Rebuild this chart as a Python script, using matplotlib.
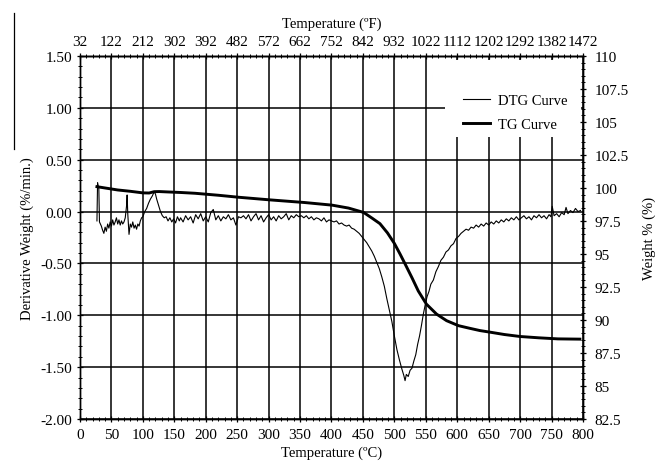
import numpy as np
import matplotlib.pyplot as plt
from matplotlib.lines import Line2D
from matplotlib.patches import Rectangle
from matplotlib.ticker import MultipleLocator, FixedLocator, FormatStrFormatter

plt.rcParams['font.family'] = ['Liberation Serif', 'DejaVu Serif']
plt.rcParams['font.size'] = 10.5

# DTG curve (%/min.)
temp_dtg = [27, 28, 30, 31, 34, 36, 38, 40, 42, 44, 46, 48, 50, 52, 54, 56, 58, 60,
            62, 64, 66, 68, 70, 72, 74, 75, 76, 78, 80, 82, 84, 86, 88, 90, 92, 94,
            96, 98, 100, 103, 106, 109, 112, 115, 118, 120, 122, 125, 128, 131, 134,
            137, 140, 143, 146, 149, 152, 155, 158,
            160, 164, 168, 172, 176, 180, 184, 188, 192, 196, 200, 204, 208, 212,
            216, 220, 224, 228, 232, 236, 240, 244, 248, 252, 256, 260, 264, 268,
            272, 276, 280, 284, 288, 292, 296, 300, 304, 308, 312, 316, 320, 324,
            328, 332, 336, 340, 344, 348, 352, 356, 360, 364, 368, 372, 376, 380,
            384, 388, 392, 396, 400,
            404, 408, 412, 416, 420, 424, 428, 432, 436, 440, 444, 448, 452, 456,
            460, 464, 468, 472, 476, 480, 484, 488, 492, 496, 500, 504, 508, 512,
            515, 517, 519, 522, 525, 528, 531, 534, 537, 540, 543, 546, 549, 552,
            555, 558, 562, 566, 570, 574, 578, 582, 586, 590, 594, 598, 602, 606,
            610, 614, 618, 622, 626, 630, 634, 638,
            642, 646, 650, 654, 658, 662, 666, 670, 674, 678, 682, 686, 690, 694,
            698, 702, 706, 710, 714, 718, 722, 726, 730, 734, 738, 742, 746, 749,
            751, 754, 758, 762, 766, 770, 773, 776, 780, 784, 788, 792, 796]
dtg = [-0.09, 0.28, 0.22, -0.10, -0.14, -0.18, -0.21, -0.15, -0.19, -0.12, -0.16,
       -0.10, -0.14, -0.08, -0.13, -0.10, -0.06, -0.12, -0.08, -0.13, -0.09, -0.12,
       -0.10, -0.06, 0.05, 0.16, -0.02, -0.22, -0.12, -0.15, -0.10, -0.16, -0.13,
       -0.17, -0.12, -0.14, -0.09, -0.06, -0.05, 0.00, 0.03, 0.08, 0.12, 0.15, 0.19,
       0.17, 0.12, 0.06, 0.00, -0.04, -0.06, -0.05, -0.09, -0.06, -0.10, -0.07,
       -0.11, -0.05, -0.09,
       -0.06, -0.10, -0.04, -0.08, -0.05, -0.11, -0.03, -0.07, -0.02, -0.09, -0.05,
       -0.10, -0.01, 0.02, -0.08, -0.04, -0.09, -0.05, -0.07, -0.03, -0.08, -0.06,
       -0.13, -0.05, -0.06, -0.04, -0.07, -0.03, -0.09, -0.05, -0.02, -0.08, -0.04,
       -0.10, -0.06, -0.03, -0.08, -0.05, -0.09, -0.04, -0.07, -0.05, -0.02, -0.08,
       -0.04, -0.06, -0.03, -0.05, -0.04, -0.06, -0.04, -0.07, -0.05, -0.08, -0.06,
       -0.07, -0.09, -0.06, -0.10, -0.08, -0.09,
       -0.10, -0.09, -0.12, -0.11, -0.13, -0.14, -0.13, -0.16, -0.17, -0.19, -0.21,
       -0.24, -0.27, -0.30, -0.34, -0.38, -0.43, -0.49, -0.55, -0.63, -0.72, -0.84,
       -0.95, -1.06, -1.20, -1.33, -1.43, -1.52, -1.58, -1.63, -1.57, -1.59, -1.53,
       -1.51, -1.44, -1.38, -1.28, -1.20, -1.10, -0.99, -0.90, -0.82, -0.77, -0.70,
       -0.66, -0.58, -0.53, -0.47, -0.44, -0.39, -0.37, -0.33, -0.31, -0.26, -0.24,
       -0.21, -0.19, -0.17, -0.18, -0.15, -0.16, -0.13, -0.15, -0.12,
       -0.14, -0.11, -0.13, -0.10, -0.12, -0.09, -0.11, -0.08, -0.10, -0.07, -0.09,
       -0.06, -0.08, -0.05, -0.08, -0.06, -0.04, -0.07, -0.05, -0.08, -0.04, -0.06,
       -0.03, -0.06, -0.04, -0.07, -0.03, -0.05, 0.05, -0.04, -0.02, -0.05, -0.01,
       -0.03, 0.04, -0.02, 0.01, -0.01, 0.03, 0.00, 0.01]

# TG curve (weight %)
temp_tg = [27, 40, 60, 80, 100, 110, 118, 126, 140, 160, 183, 220, 252, 302, 357,
           401, 427, 451, 465, 477, 489, 500, 509, 517, 528, 538, 551, 567, 583, 602,
           620, 636, 652, 675, 700, 730, 760, 795]
tg = [100.1, 100.0, 99.85, 99.75, 99.63, 99.62, 99.72, 99.73, 99.7, 99.66, 99.6,
      99.45, 99.3, 99.1, 98.9, 98.7, 98.48, 98.15, 97.7, 97.3, 96.6, 95.8, 95.0,
      94.25, 93.2, 92.2, 91.2, 90.45, 89.95, 89.57, 89.37, 89.2, 89.08, 88.9, 88.75,
      88.65, 88.57, 88.55]

fig = plt.figure(figsize=(6.62, 4.64), dpi=100)
ax = fig.add_axes([0.1208, 0.0948, 0.7599, 0.7824])
ax2 = ax.twinx()

ax.plot(temp_dtg, dtg, color='black', lw=0.8)
ax2.plot(temp_tg, tg, color='black', lw=2.1)

ax.set_xlim(0, 800)
ax.set_ylim(-2.0, 1.5)
ax.xaxis.set_major_locator(MultipleLocator(50))
ax.xaxis.set_minor_locator(MultipleLocator(10))
ax.yaxis.set_major_locator(MultipleLocator(0.5))
ax.yaxis.set_minor_locator(MultipleLocator(0.1))
ax.yaxis.set_major_formatter(FormatStrFormatter('%.2f'))
ax.grid(True, which='major', color='black', lw=1.1)
ax.set_axisbelow(True)

ax2.set_ylim(82.5, 110)
ax2.yaxis.set_major_locator(MultipleLocator(2.5))
ax2.yaxis.set_minor_locator(MultipleLocator(0.5))
ax2.yaxis.set_major_formatter(plt.FuncFormatter(lambda v, p: '{:g}'.format(v)))

secax = ax.secondary_xaxis('top', functions=(lambda c: c * 1.8 + 32,
                                             lambda f: (f - 32) / 1.8))
secax.xaxis.set_major_locator(FixedLocator(np.arange(32, 1473, 90)))
secax.xaxis.set_minor_locator(FixedLocator(np.arange(32, 1473, 18)))

for a in (ax, ax2, secax):
    a.tick_params(which='major', direction='inout', length=5, width=0.9, pad=3,
                  labelsize=11)
    a.tick_params(which='minor', direction='inout', length=3, width=0.7)
    for s in a.spines.values():
        s.set_linewidth(1.0)

ax.tick_params(axis='y', pad=3)
ax2.tick_params(axis='y', pad=6)
ax.tick_params(axis='x', pad=4)

ax.set_xlabel('Temperature (ºC)', labelpad=3)
ax.set_ylabel('Derivative Weight (%/min.)', labelpad=5)
ax2.set_ylabel('Weight % (%)', labelpad=10)
secax.set_xlabel('Temperature (ºF)', labelpad=6)

# white box behind the legend hides the grid
ax2.add_patch(Rectangle((0.7256, 0.777), 0.27, 0.212, transform=ax2.transAxes,
                        facecolor='white', edgecolor='none', zorder=1))
handles = [Line2D([], [], color='black', lw=0.8), Line2D([], [], color='black', lw=2.1)]
ax2.legend(handles, ['DTG Curve', 'TG Curve'], loc='upper left',
           bbox_to_anchor=(0.746, 0.917), frameon=False, borderpad=0,
           handlelength=1.9, handletextpad=0.5, labelspacing=0.8)

# stray frame line at the far left of the picture
fig.add_artist(Line2D([14 / 662, 14 / 662], [1 - 14 / 464, 1 - 150 / 464],
                      color='black', lw=0.9))

fig.savefig('out.png', dpi=100)
